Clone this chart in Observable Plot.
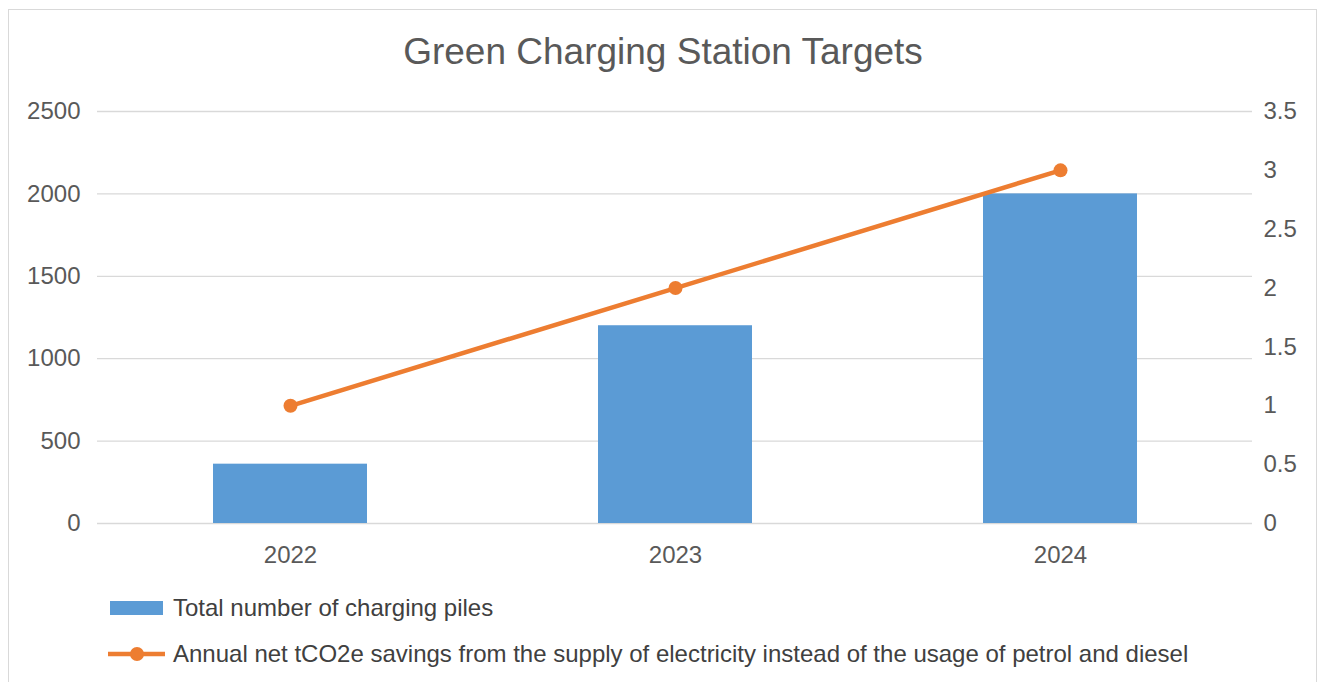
<!DOCTYPE html>
<html>
<head>
<meta charset="utf-8">
<script src="https://cdn.jsdelivr.net/npm/d3@7"></script>
<script src="https://cdn.jsdelivr.net/npm/@observablehq/plot@0.6"></script>
<style>
  html, body { margin: 0; padding: 0; background: #fff; }
  body { width: 1322px; height: 682px; overflow: hidden; position: relative; font-family: "Liberation Sans", Arial, sans-serif; color: #595959; }
  #frame { position: absolute; left: 8px; top: 9px; width: 1309px; height: 700px; border: 1px solid #d9d9d9; box-sizing: border-box; }
  #title { position: absolute; left: 0; width: 1326px; top: 30px; text-align: center; font-size: 37px; line-height: 44px; color: #595959; }
  #chart { position: absolute; left: 0; top: 80px; }
  .leg { position: absolute; left: 105px; font-size: 24px; line-height: 28px; display: flex; align-items: center; color: #404040; }
  .leg svg { margin-right: 6px; }
</style>
</head>
<body>
<div id="frame"></div>
<div id="title">Green Charging Station Targets</div>
<div id="chart"></div>
<div class="leg" id="leg1" style="top:594px"></div>
<div class="leg" id="leg2" style="top:640px"></div>
<script>
const years = ["2022", "2023", "2024"];
const piles = [360, 1200, 2000];
const savings = [1, 2, 3];
const leftTicks = [0, 500, 1000, 1500, 2000, 2500];
const rightTicks = [0, 0.5, 1, 1.5, 2, 2.5, 3, 3.5];
const seriesNames = ["Total number of charging piles", "Annual net tCO2e savings from the supply of electricity instead of the usage of petrol and diesel"];
const colors = ["#5b9bd5", "#ed7d31"];

const leftMax = 2500, rightMax = 3.5;
const toLeft = v => v * leftMax / rightMax;

const data = years.map((y, i) => ({year: y, piles: piles[i], savings: savings[i]}));

const chart = Plot.plot({
  width: 1322,
  height: 500,
  marginTop: 31,
  marginBottom: 57,
  marginLeft: 97,
  marginRight: 70,
  style: {fontFamily: "'Liberation Sans', Arial, sans-serif", fontSize: "24px", color: "#595959", background: "transparent"},
  x: {domain: years, paddingInner: 0.6, paddingOuter: 0.3},
  y: {domain: [0, leftMax]},
  marks: [
    Plot.ruleY(leftTicks, {stroke: "#d9d9d9", strokeWidth: 1.3}),
    Plot.barY(data, {x: "year", y: "piles", fill: colors[0]}),
    Plot.line(data, {x: "year", y: d => toLeft(d.savings), stroke: colors[1], strokeWidth: 4.5, strokeLinecap: "round"}),
    Plot.dot(data, {x: "year", y: d => toLeft(d.savings), fill: colors[1], r: 7}),
    Plot.axisX({tickSize: 0, tickPadding: 22, label: null, fontSize: 24}),
    Plot.axisY(leftTicks, {anchor: "left", tickSize: 0, tickPadding: 17, label: null, fontSize: 24, tickFormat: d => String(d)}),
    Plot.axisY(rightTicks.map(toLeft), {anchor: "right", tickSize: 0, tickPadding: 11, label: null, fontSize: 24, tickFormat: d => String(+(d * rightMax / leftMax).toFixed(2))})
  ]
});
document.getElementById("chart").appendChild(chart);

document.getElementById("leg1").innerHTML =
  `<svg width="62" height="16"><rect x="5" y="1" width="53" height="14" fill="${colors[0]}"/></svg>${seriesNames[0]}`;
document.getElementById("leg2").innerHTML =
  `<svg width="62" height="16"><line x1="3" y1="8" x2="60" y2="8" stroke="${colors[1]}" stroke-width="4.5"/><circle cx="32" cy="8" r="7" fill="${colors[1]}"/></svg>${seriesNames[1]}`;
</script>
</body>
</html>
